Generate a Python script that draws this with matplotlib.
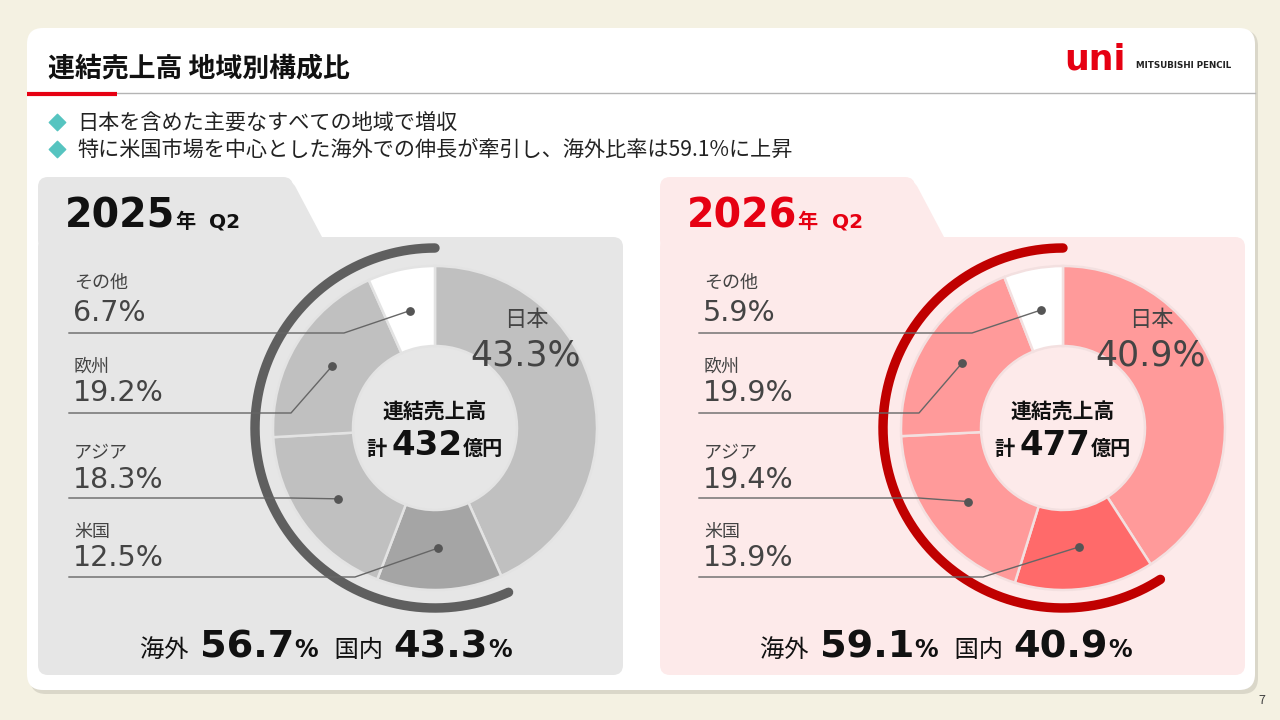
import matplotlib
matplotlib.use('Agg')
import matplotlib.pyplot as plt
from matplotlib.patches import FancyBboxPatch, Polygon
import numpy as np

plt.rcParams['font.family'] = ['Noto Sans CJK JP', 'DejaVu Sans']
NUM = ['DejaVu Sans']  # 数字用 (幅広)

# データ
regions = ['日本', '米国', 'アジア', '欧州', 'その他']
share_2025 = [43.3, 12.5, 18.3, 19.2, 6.7]
share_2026 = [40.9, 13.9, 19.4, 19.9, 5.9]
totals = [432, 477]
overseas = [56.7, 59.1]
domestic = [43.3, 40.9]
years = ['2025', '2026']
title = '連結売上高 地域別構成比'
bullets = ['日本を含めた主要なすべての地域で増収',
           '特に米国市場を中心とした海外での伸長が牽引し、海外比率は59.1%に上昇']

fig = plt.figure(figsize=(12.8, 7.2), dpi=100)
fig.patch.set_facecolor('#f4f1e2')
ax = fig.add_axes([0, 0, 1, 1])
ax.set_axis_off()


def Y(y):
    return 720 - y


def runs(x, y, parts, ha='left'):
    # 複数フォントサイズの文字列を横に並べる
    r = fig.canvas.get_renderer()
    objs = []
    cur = x
    for part in parts:
        s, size, wt, col = part[:4]
        fam = part[4] if len(part) > 4 else None
        kw = {'family': fam} if fam else {}
        t = ax.text(cur, Y(y), s, fontsize=size, fontweight=wt, color=col,
                    ha='left', va='baseline', zorder=6, **kw)
        cur += t.get_window_extent(r).width
        objs.append(t)
    if ha == 'center':
        shift = (cur - x) / 2
        for t in objs:
            px, py = t.get_position()
            t.set_position((px - shift, py))


# カード
ax.add_patch(FancyBboxPatch((30, Y(694)), 1228, 664, boxstyle='round,pad=0,rounding_size=16',
                            fc='#cfccbf', ec='none', alpha=0.7, zorder=0))
ax.add_patch(FancyBboxPatch((27, Y(690)), 1228, 662, boxstyle='round,pad=0,rounding_size=16',
                            fc='white', ec='none', zorder=0.5))

# ヘッダー
ax.text(48, Y(68), title, fontsize=19.4, fontweight='bold', color='#111', va='center', zorder=6)
ax.plot([117, 1255], [Y(93), Y(93)], color='#b4b4b4', lw=1, zorder=5)
ax.plot([27, 117], [Y(93.5), Y(93.5)], color='#e60012', lw=3, solid_capstyle='butt', zorder=5)
ax.text(1064, Y(69), 'uni', fontsize=25, fontweight='bold', color='#e60012', va='baseline',
        family=NUM, zorder=6)
ax.text(1136, Y(65), 'MITSUBISHI PENCIL', fontsize=6.3, fontweight='bold', color='#222',
        va='center', family=NUM, zorder=6)

for i, b in enumerate(bullets):
    yy = 122 + i * 27
    ax.scatter([57], [Y(yy)], marker='D', s=70, color='#56c4c0', zorder=6)
    ax.text(77, Y(yy + 1), b, fontsize=15.2, color='#222', va='center', zorder=6)

ax.text(1262, Y(700), '7', fontsize=9, color='#444', ha='center', va='center', zorder=6)

# パネル
panels = [
    dict(x0=38, tab_r=293, slope=322, bg='#e6e6e6', cx=435, cy=428, lx=73,
         colors=['#c0c0c0', '#a5a5a5', '#c0c0c0', '#c0c0c0', '#ffffff'],
         edge='#e3e3e3', arc='#5f5f5f', ycol='#111', share=share_2025, jx=526, bx=326),
    dict(x0=660, tab_r=915, slope=944, bg='#fdeaea', cx=1063, cy=428, lx=703,
         colors=['#ff9a9a', '#ff6a6a', '#ff9a9a', '#ff9a9a', '#ffffff'],
         edge='#f3e0e0', arc='#c00000', ycol='#e60012', share=share_2026, jx=1151, bx=946),
]

# 左側ラベル行 (上から その他, 欧州, アジア, 米国)
row_idx = [4, 3, 2, 1]
name_y = [283, 367, 452, 532]
val_y = [313, 393, 480, 558]
line_y = [333, 413, 498, 577]
bend_dx = [-91, -144, -144, -80]

for k, p in enumerate(panels):
    x0 = p['x0']
    ax.add_patch(FancyBboxPatch((x0, Y(675)), 585, 675 - 237, boxstyle='round,pad=0,rounding_size=10',
                                fc=p['bg'], ec='none', zorder=1))
    ax.add_patch(FancyBboxPatch((x0, Y(250)), p['tab_r'] - x0, 73, boxstyle='round,pad=0,rounding_size=10',
                                fc=p['bg'], ec='none', zorder=1))
    ax.add_patch(Polygon([(p['tab_r'] - 14, Y(177)), (p['tab_r'] - 4, Y(179)), (p['tab_r'] + 2, Y(186)),
                          (p['slope'], Y(237)), (p['slope'], Y(250)), (p['tab_r'] - 14, Y(250))],
                         closed=True, fc=p['bg'], ec='none', zorder=1))

    runs(x0 + 27, 228, [(years[k], 28.5, 'bold', p['ycol'], NUM), ('年', 14.5, 'bold', p['ycol']),
                        ('  Q2', 14.5, 'bold', p['ycol'], NUM)])

    cx, cy = p['cx'], p['cy']
    wedges, _ = ax.pie(p['share'], colors=p['colors'], startangle=90, counterclock=False,
                       radius=162, center=(cx, Y(cy)),
                       wedgeprops=dict(width=80, edgecolor=p['edge'], linewidth=1.8, zorder=3))

    th = np.radians(np.linspace(90, 90 + 360 * overseas[k] / 100, 300))
    ax.plot(cx + 180 * np.cos(th), Y(cy) + 180 * np.sin(th), lw=6.8, color=p['arc'],
            solid_capstyle='round', zorder=3)

    for j, idx in enumerate(row_idx):
        w = wedges[idx]
        mid = np.radians((w.theta1 + w.theta2) / 2)
        dx, dy = cx + 120 * np.cos(mid), Y(cy) + 120 * np.sin(mid)
        ax.plot([p['lx'] - 4, cx + bend_dx[j], dx], [Y(line_y[j]), Y(line_y[j]), dy],
                color='#666', lw=1, zorder=4)
        ax.scatter([dx], [dy], s=28, color='#555', zorder=5)
        ax.text(p['lx'] + 1, Y(name_y[j]), regions[idx], fontsize=13, color='#444', va='center', zorder=6)
        ax.text(p['lx'], Y(val_y[j]), f'{p["share"][idx]:.1f}%', fontsize=20.5, color='#444',
                va='center', family=NUM, zorder=6)

    ax.text(p['jx'], Y(320), regions[0], fontsize=16, color='#444', ha='center', va='center', zorder=6)
    ax.text(p['jx'], Y(355), f'{p["share"][0]:.1f}%', fontsize=25, color='#444', ha='center',
            va='center', family=NUM, zorder=6)

    ax.text(cx, Y(412), '連結売上高', fontsize=15, fontweight='bold', color='#111', ha='center',
            va='center', zorder=6)
    runs(cx, 455, [('計 ', 14.5, 'bold', '#111'), (str(totals[k]), 24.5, 'bold', '#111', NUM),
                   ('億円', 14.5, 'bold', '#111')], ha='center')

    runs(p['bx'], 657, [('海外  ', 17.5, 'normal', '#111'), (f'{overseas[k]:.1f}', 27.5, 'bold', '#111', NUM),
                        ('%', 17, 'bold', '#111', NUM), ('   国内  ', 17.5, 'normal', '#111'),
                        (f'{domestic[k]:.1f}', 27.5, 'bold', '#111', NUM), ('%', 17, 'bold', '#111', NUM)],
         ha='center')

ax.set_xlim(0, 1280)
ax.set_ylim(0, 720)
ax.set_aspect('auto')

fig.savefig('out.png', dpi=100, facecolor=fig.get_facecolor())
